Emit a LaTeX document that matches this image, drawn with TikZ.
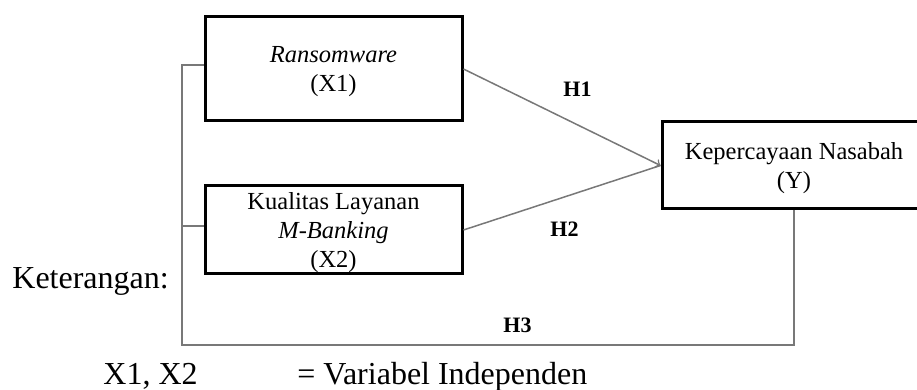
\documentclass[tikz,border=0pt]{standalone}
\usepackage{fontspec}
\setmainfont{Liberation Serif}
\definecolor{linkgray}{RGB}{120,120,120}
\newcommand{\boxfont}{\fontsize{12.25}{14.5}\selectfont}
\newcommand{\bstrut}{\rule[-3pt]{0pt}{14.5pt}}
\begin{document}
\begin{tikzpicture}[x=0.5pt, y=-0.5pt,
  box/.style={draw, line width=1.5pt, align=center, inner sep=0pt, font=\boxfont},
  link/.style={draw=linkgray, line width=0.75pt},
  hlabel/.style={anchor=base west, inner sep=0pt, font=\bfseries\fontsize{11}{13}\selectfont},
  note/.style={anchor=base west, inner sep=0pt, font=\fontsize{16}{19}\selectfont}]
  \useasboundingbox (0,0) rectangle (917,390);
  \clip (0,0) rectangle (917,390);

  % Variables
  \node[box, minimum width=128.5pt, minimum height=52pt] (x1) at (333.5,69)
    {\bstrut\textit{Ransomware}\\\bstrut(X1)};
  \node[box, minimum width=128.5pt, minimum height=44pt] (x2) at (333.5,230)
    {\bstrut Kualitas Layanan\\\bstrut\textit{M-Banking}\\\bstrut(X2)};
  \node[box, minimum width=132pt, minimum height=43.5pt] (y) at (794,165.5)
    {\bstrut Kepercayaan Nasabah\\\bstrut(Y)};

  % Partial paths
  \draw[link, ->] (x1.east) -- (y.west);
  \draw[link] (x2.east) -- (y.west);
  \node[hlabel] (h1) at (563,97) {H1};
  \node[hlabel] (h2) at (550,237) {H2};

  % Simultaneous path
  \coordinate (lcorner) at (182,345);
  \coordinate (x1in) at ([yshift=2pt]x1.west);
  \coordinate (x2in) at ([yshift=2pt]x2.west);
  \draw[link] (x1in) -| (lcorner) -| (y.south);
  \draw[link] (x2in) -- (x2in -| lcorner);
  \node[hlabel] (h3) at (503,333) {H3};

  % Legend
  \node[note] (ket) at (12,288) {Keterangan:};
  \node[note] (vars) at (103,385) {X1, X2};
  \node[note] (varsdef) at (297,385) {= Variabel Independen};
\end{tikzpicture}
\end{document}
